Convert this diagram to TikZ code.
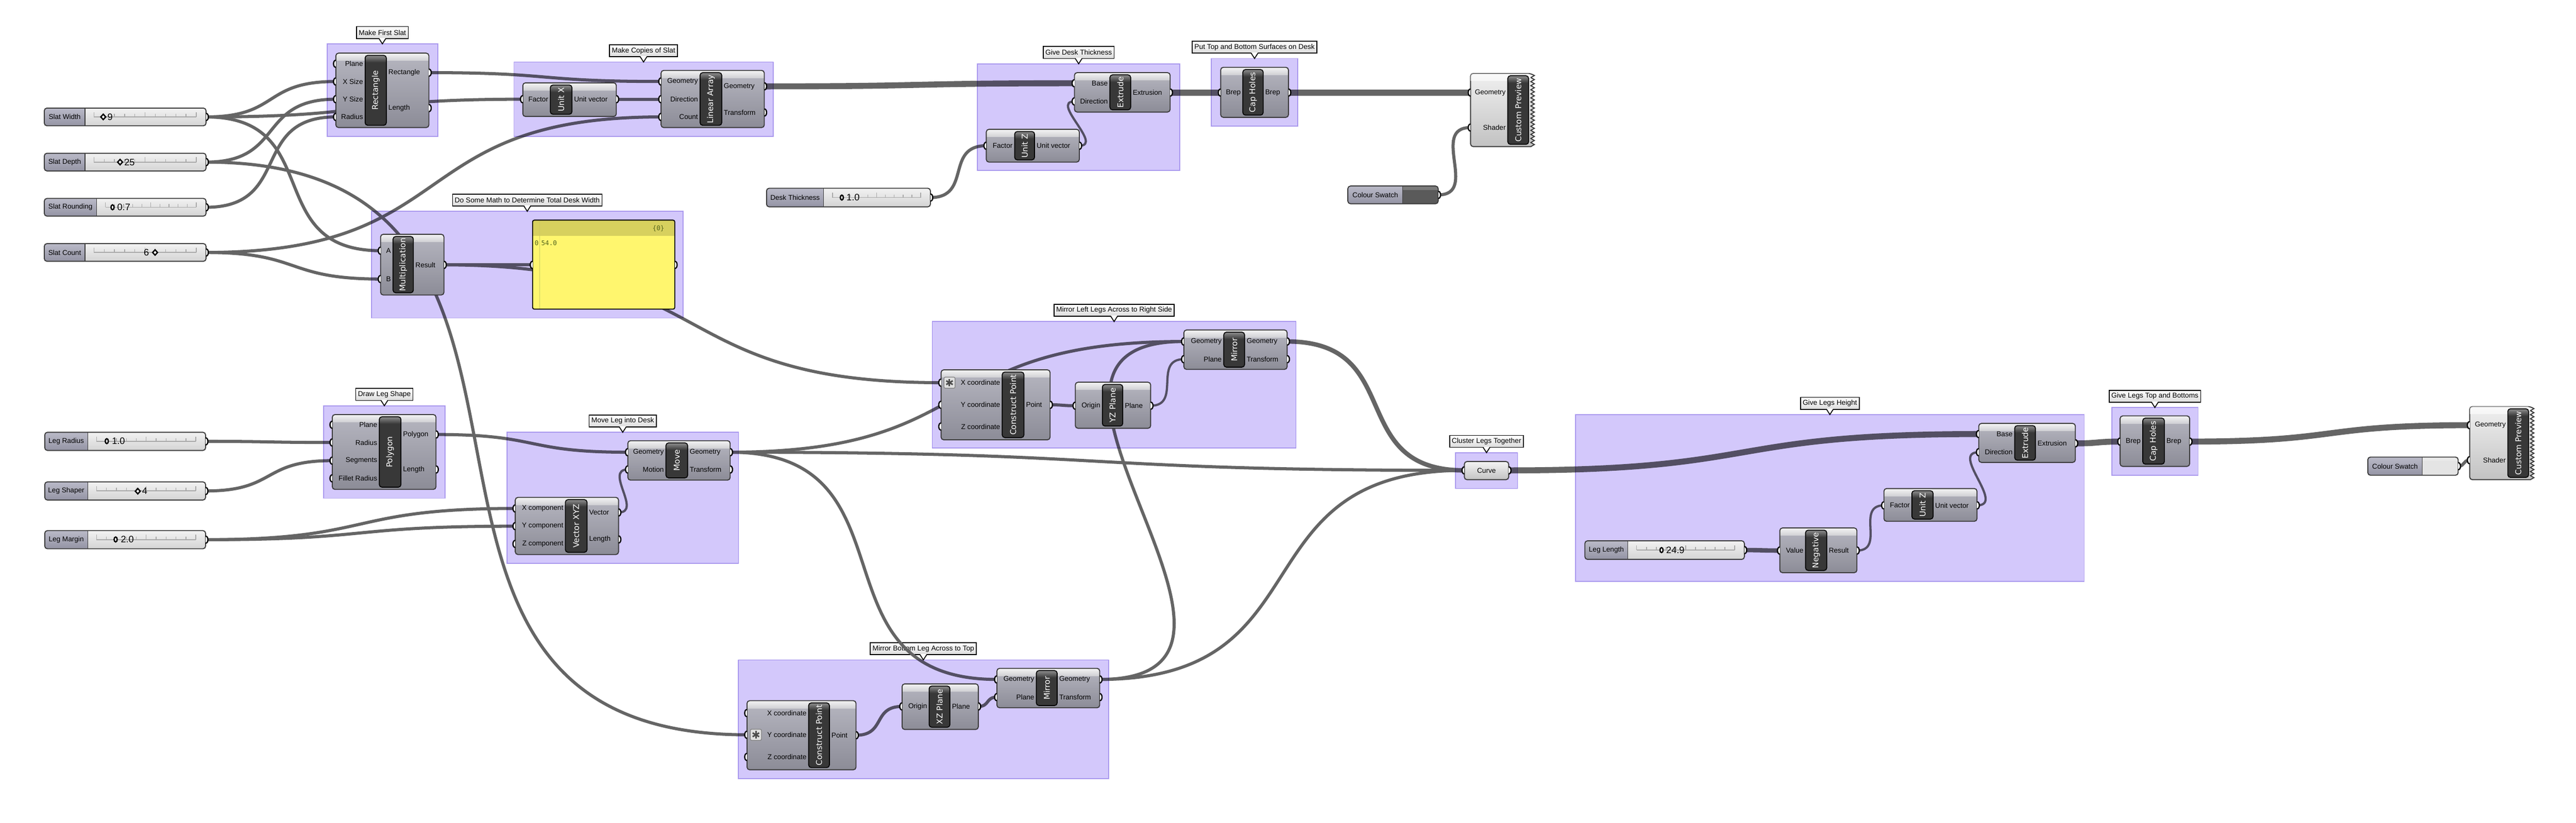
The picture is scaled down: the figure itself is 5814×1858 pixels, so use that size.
\documentclass[tikz,border=0pt]{standalone}
\usepackage{fontspec}
\setmainfont{Liberation Sans}
\newfontfamily\barfont{DejaVu Sans}
\newfontfamily\panelfont{DejaVu Sans Mono}
\usetikzlibrary{positioning}

%---------------------------------------------------
\definecolor{wirecol}{HTML}{656565}
\definecolor{grpfill}{HTML}{D3C8FB}
\definecolor{grpedge}{HTML}{BCAEF0}
\definecolor{edgecol}{HTML}{3A3A3A}
\definecolor{compt}{HTML}{B6B6C0}
\definecolor{compb}{HTML}{8C8C97}
\definecolor{headt}{HTML}{F4F4F4}
\definecolor{headb}{HTML}{D0D0D4}
\definecolor{barcol}{HTML}{383838}
\definecolor{barhi}{HTML}{8E8E8E}
\definecolor{sldlt}{HTML}{BABAC8}
\definecolor{sldlb}{HTML}{9494A4}
\definecolor{sldrt}{HTML}{F2F2F2}
\definecolor{sldrb}{HTML}{D4D4D4}
\definecolor{lblbot}{HTML}{DCDCDC}
\definecolor{panelhead}{HTML}{D7D05E}
\definecolor{panelbody}{HTML}{FFF66E}
\definecolor{panelline}{HTML}{CFC862}
\definecolor{paneltext}{HTML}{55651B}
\definecolor{prevt}{HTML}{F0F0F0}
\definecolor{prevb}{HTML}{C2C2C2}
\definecolor{swdark}{HTML}{5A5A5A}
\definecolor{swlight}{HTML}{E4E4E4}
\definecolor{tickcol}{HTML}{A8A8A8}

\pgfdeclarelayer{bg}
\pgfdeclarelayer{lbl}
\pgfdeclarelayer{wirelayer}
\pgfdeclarelayer{grp}
\pgfsetlayers{bg,lbl,wirelayer,grp,main}

\tikzset{
  wire/.style={draw=wirecol, line width=0.07cm, looseness=1.4},
  thin wire/.style={line width=0.05cm},
  wide wire/.style={line width=0.1cm},
  thick wire/.style={line width=0.135cm},
  grpbox/.style={fill=grpfill, draw=grpedge, line width=0.02cm, blend mode=multiply},
  grplabel/.style={draw=black, line width=0.02cm, top color=white, bottom color=lblbot,
    minimum height=0.27cm, inner xsep=0.05cm, inner ysep=0, font=\fontsize{4.55}{5}\selectfont},
  grip/.style={draw=black, line width=0.028cm, fill=white},
  plabel/.style={inner sep=0, font=\fontsize{4.5}{5}\selectfont},
  slabel/.style={inner sep=0, font=\fontsize{4.5}{5}\selectfont},
  sval/.style={inner sep=0, anchor=west, font=\fontsize{6}{7}\selectfont},
  smark/.style={draw=black, line width=0.03cm, fill=white},
  track/.style={draw=tickcol, line width=0.02cm},
  tickline/.style={draw=tickcol, line width=0.015cm},
  bartext/.style={inner sep=0, rotate=90, text=white, font=\barfont\fontsize{5.1}{6}\selectfont},
  compbody/.style={top color=compt, bottom color=compb},
  compedge/.style={draw=edgecol, line width=0.022cm, rounded corners=0.06cm},
  comphead/.style={top color=headt, bottom color=headb},
  barhead/.style={top color=barhi, bottom color=barcol},
  baredge/.style={draw=black, line width=0.02cm, rounded corners=0.06cm},
  sldleft/.style={top color=sldlt, bottom color=sldlb},
  sldright/.style={top color=sldrt, bottom color=sldrb},
  prevbody/.style={top color=prevt, bottom color=prevb, draw=edgecol, line width=0.022cm},
  ptext/.style={inner sep=0, text=paneltext, font=\panelfont\fontsize{4.15}{5}\selectfont},
  exprbox/.style={draw=gray, fill=gray!25, rounded corners=0.03cm, minimum size=0.25cm, inner sep=0, line width=0.015cm},
}

%---------------------------------------------------
% component: name, x1, y1, x2, y2, bar x1, bar x2, title
\newcommand\comp[8]{%
  \xdef\compL{#2}\xdef\compR{#4}\xdef\barL{#6}\xdef\barR{#7}%
  \path[compbody, rounded corners=0.06cm] (#2,#3) rectangle (#4,#5);
  \begin{scope}
    \clip[rounded corners=0.06cm] (#2,#3) rectangle (#4,#5);
    \path[comphead] (#2,#3) rectangle (#4,#3+17);
  \end{scope}
  \draw[compedge] (#2,#3) rectangle (#4,#5);
  \begin{scope}
    \clip[rounded corners=0.06cm] (#6,#3+5) rectangle (#7,#5-5);
    \fill[barcol] (#6,#3+5) rectangle (#7,#5-5);
    \path[barhead] (#6,#3+5) rectangle (#7,#3+21);
  \end{scope}
  \draw[baredge] (#6,#3+5) rectangle (#7,#5-5);
  \node[bartext] (#1) at ({(#6+#7)/2},{(#3+#5)/2}) {#8};
}
\newcommand\inp[3]{%
  \coordinate (#1) at (\compL,#2);
  \node[plabel, anchor=east] (#1-t) at (\barL-4,#2) {#3};
  \draw[grip] (\compL,#2-8) .. controls (\compL-7,#2-8) and (\compL-7,#2+8) .. (\compL,#2+8);
}
\newcommand\outp[3]{%
  \coordinate (#1) at (\compR,#2);
  \node[plabel, anchor=west] (#1-t) at (\barR+4,#2) {#3};
  \draw[grip] (\compR,#2-8) .. controls (\compR+7,#2-8) and (\compR+7,#2+8) .. (\compR,#2+8);
}
% slider: name, x1, y1, x2, y2, split, label
\newcommand\slider[7]{%
  \pgfmathsetmacro\sym{(#3+#5)/2}
  \pgfmathsetmacro\sxa{#6+20}
  \pgfmathsetmacro\sxb{#4-22}
  \path[sldright, rounded corners=0.06cm] (#2,#3) rectangle (#4,#5);
  \begin{scope}
    \clip[rounded corners=0.06cm] (#2,#3) rectangle (#4,#5);
    \path[sldleft] (#2,#3) rectangle (#6,#5);
  \end{scope}
  \draw[compedge] (#2,#3) rectangle (#4,#5);
  \draw[edgecol, line width=0.015cm] (#6,#3) -- (#6,#5);
  \node[slabel] (#1) at ({(#2+#6)/2},\sym) {#7};
  \draw[track] (\sxa,\sym) -- (\sxb,\sym);
  \foreach \i in {0,...,10}{
    \pgfmathsetmacro\tkx{\sxa+\i*(\sxb-\sxa)/10}
    \pgfmathsetmacro\tkh{ifthenelse(mod(\i,5)==0,11,7)}
    \draw[tickline] (\tkx,\sym) -- (\tkx,\sym-\tkh);
  }
  \coordinate (#1-o) at (#4,\sym);
  \draw[grip] (#4,\sym-8) .. controls (#4+7,\sym-8) and (#4+7,\sym+8) .. (#4,\sym+8);
}
\newcommand\sdia[2]{\draw[smark] (#1-5.5,#2) -- (#1,#2-6) -- (#1+5.5,#2) -- (#1,#2+6) -- cycle;}
\newcommand\scirc[2]{\draw[smark] (#1,#2) ellipse [x radius=0.035cm, y radius=0.055cm];}
% colour swatch: name, x1, y1, x2, y2, split, colour
\newcommand\swatch[7]{%
  \pgfmathsetmacro\sym{(#3+#5)/2}
  \begin{scope}
    \clip[rounded corners=0.06cm] (#2,#3) rectangle (#4,#5);
    \path[sldleft] (#2,#3) rectangle (#6,#5);
    \fill[#7] (#6,#3) rectangle (#4,#5);
    \fill[white, opacity=0.2] (#6,#3) rectangle (#4,#3+9);
  \end{scope}
  \draw[compedge] (#2,#3) rectangle (#4,#5);
  \draw[edgecol, line width=0.015cm] (#6,#3) -- (#6,#5);
  \node[slabel] (#1) at ({(#2+#6)/2},\sym) {Colour Swatch};
  \coordinate (#1-o) at (#4,\sym);
  \draw[grip] (#4,\sym-8) .. controls (#4+7,\sym-8) and (#4+7,\sym+8) .. (#4,\sym+8);
}
% custom preview: name, x1, y1, x2, y2, bar x1, bar x2
\newcommand\preview[7]{%
  \xdef\compL{#2}\xdef\barL{#6}%
  \pgfmathtruncatemacro\nz{round((#5-#3)/9)}
  \pgfmathsetmacro\zs{(#5-#3)/\nz}
  \path[prevbody] (#4,#5) [rounded corners=0.06cm] -- (#2,#5) -- (#2,#3) -- (#4,#3) [sharp corners]
    \foreach \k in {1,...,\nz}{ -- ({#4+8},{#3+(\k-0.5)*\zs}) -- (#4,{#3+\k*\zs}) } -- cycle;
  \begin{scope}
    \clip[rounded corners=0.06cm] (#2,#3) rectangle (#4,#5);
    \fill[white, opacity=0.6] (#2,#3) rectangle (#4,#3+17);
  \end{scope}
  \begin{scope}
    \clip[rounded corners=0.06cm] (#6,#3+5) rectangle (#7,#5-5);
    \fill[barcol] (#6,#3+5) rectangle (#7,#5-5);
    \path[barhead] (#6,#3+5) rectangle (#7,#3+21);
  \end{scope}
  \draw[baredge] (#6,#3+5) rectangle (#7,#5-5);
  \node[bartext] (#1) at ({(#6+#7)/2},{(#3+#5)/2}) {Custom Preview};
}
\newcommand\expricon[3]{%
  \node[exprbox] (#1) at (#2,#3) {};
  \foreach \a in {90,30,150}{\draw[gray!60!black, line width=0.035cm] (#1.center) ++(\a:0.085cm) -- ++(\a+180:0.17cm);}
}
% group: name, x1, y1, x2, y2, label
\newcommand\group[6]{%
  \begin{pgfonlayer}{grp}
    \path[grpbox] (#2,#3) rectangle (#4,#5);
  \end{pgfonlayer}
  \begin{pgfonlayer}{lbl}
    \node[grplabel] (#1) at ({(#2+#4)/2},#3-25.5) {#6};
    \fill[white] ({(#2+#4)/2-8},#3-13.5) -- ({(#2+#4)/2},#3-1) -- ({(#2+#4)/2+8},#3-13.5) -- cycle;
    \draw[black, line width=0.02cm] ({(#2+#4)/2-8},#3-12.5) -- ({(#2+#4)/2},#3) -- ({(#2+#4)/2+8},#3-12.5);
  \end{pgfonlayer}
}
\newcommand\wire[3][]{%
  \begin{pgfonlayer}{wirelayer}
    \draw[wire,#1] (#2) to[out=0,in=180] (#3);
  \end{pgfonlayer}
}

\begin{document}
\begin{tikzpicture}[x=0.01cm,y=-0.01cm]
\useasboundingbox (0,0) rectangle (5814,1858);
\begin{pgfonlayer}{bg}
\fill[white] (0,0) rectangle (5814,1858);
\end{pgfonlayer}

%--------------------------------------------------- groups
\group{gfirst}{738}{99}{988}{308}{Make First Slat}
\group{gcopies}{1160}{140}{1745}{308}{Make Copies of Slat}
\group{gmath}{838}{477}{1542}{718}{Do Some Math to Determine Total Desk Width}
\group{gthick}{2206}{144}{2663}{385}{Give Desk Thickness}
\group{gcap}{2734}{132}{2929}{285}{Put Top and Bottom Surfaces on Desk}
\group{gmirl}{2104}{726}{2925}{1012}{Mirror Left Legs Across to Right Side}
\group{gshape}{730}{916}{1005}{1125}{Draw Leg Shape}
\group{gmove}{1144}{976}{1667}{1272}{Move Leg into Desk}
\group{gclust}{3285}{1022}{3425}{1103}{Cluster Legs Together}
\group{gheight}{3556}{936}{4704}{1313}{Give Legs Height}
\group{gtops}{4766}{920}{4961}{1073}{Give Legs Top and Bottoms}
\group{gmirb}{1666}{1490}{2502}{1758}{Mirror Bottom Leg Across to Top}

%--------------------------------------------------- sliders
\slider{slatw}{100}{244}{465}{284}{192}{Slat Width}
\sdia{233}{264} \node[sval] (slatw-v) at (242,264) {9};
\slider{slatd}{100}{346}{465}{386}{192}{Slat Depth}
\sdia{271}{366} \node[sval] (slatd-v) at (280,366) {25};
\slider{slatr}{100}{448}{465}{488}{218}{Slat Rounding}
\scirc{254}{468} \node[sval] (slatr-v) at (264,468) {0.7};
\slider{slatc}{100}{550}{465}{590}{192}{Slat Count}
\node[sval] (slatc-v) at (324,570) {6}; \sdia{350}{570}
\slider{deskt}{1730}{425}{2100}{467}{1859}{Desk Thickness}
\scirc{1900}{446} \node[sval] (deskt-v) at (1910,446) {1.0};
\slider{legr}{101}{976}{464}{1017}{198}{Leg Radius}
\scirc{241}{996} \node[sval] (legr-v) at (252,996) {1.0};
\slider{legs}{101}{1088}{464}{1129}{198}{Leg Shaper}
\sdia{311}{1109} \node[sval] (legs-v) at (320,1109) {4};
\slider{legm}{101}{1198}{464}{1239}{198}{Leg Margin}
\scirc{261}{1218} \node[sval] (legm-v) at (272,1218) {2.0};
\slider{legl}{3577}{1221}{3937}{1263}{3674}{Leg Length}
\scirc{3750}{1242} \node[sval] (legl-v) at (3760,1242) {24.9};

%--------------------------------------------------- desk top
\comp{rect}{758}{120}{968}{288}{824}{872}{Rectangle}
\inp{rect-pl}{144}{Plane} \inp{rect-xs}{184}{X Size} \inp{rect-ys}{224}{Y Size} \inp{rect-r}{264}{Radius}
\outp{rect-o}{164}{Rectangle} \outp{rect-len}{244}{Length}

\comp{unitx}{1180}{187}{1391}{263}{1242}{1291}{Unit X}
\inp{unitx-f}{224}{Factor} \outp{unitx-v}{224}{Unit vector}

\comp{larr}{1492}{159}{1725}{288}{1580}{1629}{Linear Array}
\inp{larr-g}{184}{Geometry} \inp{larr-d}{224}{Direction} \inp{larr-c}{264}{Count}
\outp{larr-o}{195}{Geometry} \outp{larr-t}{254}{Transform}

\comp{mult}{859}{529}{1002}{666}{887}{933}{Multiplication}
\inp{mult-a}{566}{A} \inp{mult-b}{630}{B} \outp{mult-r}{598}{Result}

% panel
\path[fill=panelbody, rounded corners=0.04cm] (1202,497) rectangle (1523,698);
\begin{scope}
  \clip[rounded corners=0.04cm] (1202,497) rectangle (1523,698);
  \fill[panelhead] (1202,497) rectangle (1523,532);
  \draw[panelline, line width=0.015cm] (1218,497) -- (1218,698);
\end{scope}
\draw[black, line width=0.022cm, rounded corners=0.04cm] (1202,497) rectangle (1523,698);
\node[ptext, anchor=east] (panel-n) at (1500,516) {\{0\}};
\node[ptext, anchor=west] (panel-k) at (1206,549) {0};
\node[ptext, anchor=west] (panel-v) at (1221,549) {54.0};
\coordinate (panel-i) at (1202,598);
\coordinate (panel-o) at (1523,598);
\draw[grip] (1202,590) .. controls (1195,590) and (1195,606) .. (1202,606);
\draw[grip] (1523,590) .. controls (1530,590) and (1530,606) .. (1523,606);

\comp{extr1}{2425}{164}{2641}{253}{2505}{2552}{Extrude}
\inp{extr1-b}{188}{Base} \inp{extr1-d}{229}{Direction} \outp{extr1-o}{209}{Extrusion}

\comp{unitz1}{2226}{292}{2436}{366}{2290}{2335}{Unit Z}
\inp{unitz1-f}{329}{Factor} \outp{unitz1-v}{329}{Unit vector}

\comp{cap1}{2755}{152}{2908}{265}{2805}{2851}{Cap Holes}
\inp{cap1-i}{209}{Brep} \outp{cap1-o}{209}{Brep}

\preview{prev1}{3319}{166}{3455}{331}{3403}{3450}
\inp{prev1-g}{209}{Geometry} \inp{prev1-s}{288}{Shader}
\swatch{sw1}{3042}{420}{3246}{460}{3166}{swdark}

%--------------------------------------------------- legs
\comp{poly}{750}{936}{984}{1105}{856}{905}{Polygon}
\inp{poly-pl}{959}{Plane} \inp{poly-r}{999}{Radius} \inp{poly-s}{1040}{Segments} \inp{poly-f}{1080}{Fillet Radius}
\outp{poly-o}{981}{Polygon} \outp{poly-len}{1060}{Length}

\comp{move}{1417}{995}{1648}{1084}{1503}{1552}{Move}
\inp{move-g}{1021}{Geometry} \inp{move-m}{1060}{Motion}
\outp{move-o}{1021}{Geometry} \outp{move-t}{1060}{Transform}

\comp{vec}{1163}{1123}{1396}{1252}{1276}{1325}{Vector XYZ}
\inp{vec-x}{1148}{X component} \inp{vec-y}{1188}{Y component} \inp{vec-z}{1228}{Z component}
\outp{vec-v}{1157}{Vector} \outp{vec-len}{1218}{Length}

\comp{cpt1}{2124}{835}{2370}{993}{2262}{2311}{Construct Point}
\inp{cpt1-x}{864}{X coordinate} \inp{cpt1-y}{914}{Y coordinate} \inp{cpt1-z}{963}{Z coordinate}
\outp{cpt1-p}{914}{Point}
\expricon{cpt1-e}{2143}{864}

\comp{yz}{2427}{863}{2597}{967}{2488}{2534}{YZ Plane}
\inp{yz-o}{916}{Origin} \outp{yz-p}{916}{Plane}

\comp{mir1}{2672}{745}{2905}{834}{2762}{2809}{Mirror}
\inp{mir1-g}{771}{Geometry} \inp{mir1-p}{811}{Plane}
\outp{mir1-o}{771}{Geometry} \outp{mir1-t}{811}{Transform}

\comp{cpt2}{1686}{1582}{1932}{1738}{1825}{1872}{Construct Point}
\inp{cpt2-x}{1610}{X coordinate} \inp{cpt2-y}{1659}{Y coordinate} \inp{cpt2-z}{1709}{Z coordinate}
\outp{cpt2-p}{1660}{Point}
\expricon{cpt2-e}{1706}{1659}

\comp{xz}{2036}{1544}{2208}{1647}{2097}{2144}{XZ Plane}
\inp{xz-o}{1595}{Origin} \outp{xz-p}{1595}{Plane}

\comp{mir2}{2250}{1509}{2482}{1598}{2339}{2386}{Mirror}
\inp{mir2-g}{1534}{Geometry} \inp{mir2-p}{1574}{Plane}
\outp{mir2-o}{1534}{Geometry} \outp{mir2-t}{1574}{Transform}

% curve parameter
\path[top color=headt, bottom color=prevb, rounded corners=0.06cm] (3305,1042) rectangle (3405,1083);
\draw[compedge] (3305,1042) rectangle (3405,1083);
\node[slabel] (curve) at (3355,1062) {Curve};
\coordinate (curve-i) at (3305,1062);
\coordinate (curve-o) at (3405,1062);
\draw[grip] (3305,1054) .. controls (3298,1054) and (3298,1070) .. (3305,1070);
\draw[grip] (3405,1054) .. controls (3412,1054) and (3412,1070) .. (3405,1070);

\comp{extr2}{4466}{956}{4684}{1044}{4547}{4594}{Extrude}
\inp{extr2-b}{980}{Base} \inp{extr2-d}{1021}{Direction} \outp{extr2-o}{1001}{Extrusion}

\comp{unitz2}{4252}{1103}{4462}{1177}{4315}{4363}{Unit Z}
\inp{unitz2-f}{1141}{Factor} \outp{unitz2-v}{1141}{Unit vector}

\comp{neg}{4017}{1192}{4191}{1293}{4075}{4123}{Negative}
\inp{neg-v}{1243}{Value} \outp{neg-r}{1243}{Result}

\comp{cap2}{4785}{939}{4942}{1053}{4836}{4885}{Cap Holes}
\inp{cap2-i}{997}{Brep} \outp{cap2-o}{997}{Brep}

\preview{prev2}{5574}{918}{5711}{1083}{5660}{5707}
\inp{prev2-g}{960}{Geometry} \inp{prev2-s}{1039}{Shader}
\swatch{sw2}{5344}{1032}{5548}{1073}{5467}{swlight}

%--------------------------------------------------- wires
\wire{slatw-o}{rect-xs}
\wire{slatw-o}{unitx-f}
\wire{slatw-o}{mult-a}
\wire{slatd-o}{rect-ys}
\wire{slatd-o}{cpt2-y}
\wire{slatr-o}{rect-r}
\wire{slatc-o}{larr-c}
\wire{slatc-o}{mult-b}
\wire{rect-o}{larr-g}
\wire{unitx-v}{larr-d}
\wire[thick wire]{larr-o}{extr1-b}
\wire{mult-r}{panel-i}
\wire{mult-r}{cpt1-x}
\wire{deskt-o}{unitz1-f}
\wire[thin wire]{unitz1-v}{extr1-d}
\wire[thick wire]{extr1-o}{cap1-i}
\wire[thick wire]{cap1-o}{prev1-g}
\wire{sw1-o}{prev1-s}

\wire{legr-o}{poly-r}
\wire{legs-o}{poly-s}
\wire{legm-o}{vec-x}
\wire{legm-o}{vec-y}
\wire{poly-o}{move-g}
\wire[thin wire]{vec-v}{move-m}
\wire{move-o}{mir1-g}
\wire{move-o}{curve-i}
\wire{move-o}{mir2-g}
\wire{cpt1-p}{yz-o}
\wire[thin wire]{yz-p}{mir1-p}
\wire[looseness=1.6]{mir2-o}{mir1-g}
\wire[wide wire]{mir1-o}{curve-i}
\wire{mir2-o}{curve-i}
\wire{cpt2-p}{xz-o}
\wire{xz-p}{mir2-p}
\wire[thick wire]{curve-o}{extr2-b}
\wire[wide wire]{legl-o}{neg-v}
\wire[thin wire]{neg-r}{unitz2-f}
\wire[thin wire]{unitz2-v}{extr2-d}
\wire[thick wire]{extr2-o}{cap2-i}
\wire[thick wire]{cap2-o}{prev2-g}
\wire{sw2-o}{prev2-s}

\end{tikzpicture}
\end{document}
